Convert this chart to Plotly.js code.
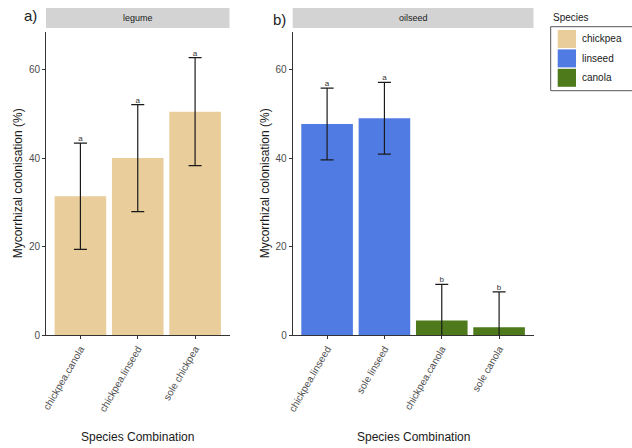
<!DOCTYPE html>
<html>
<head>
<meta charset="utf-8">
<script src="https://cdn.plot.ly/plotly-3.0.1.min.js"></script>
<style>
  html, body { margin: 0; padding: 0; background: #fff; }
  #chart { width: 632px; height: 448px; }
</style>
</head>
<body>
<div id="chart"></div>
<script>
// Mycorrhizal colonisation (%) by species combination, faceted by crop group
const legumeCats    = ['chickpea.canola', 'chickpea.linseed', 'sole chickpea'];
const legumeMean    = [31.4, 40.0, 50.5];
const legumeErr     = [12.0, 12.1, 12.2];
const legumeLetters = ['a', 'a', 'a'];
const legumeSpecies = ['chickpea', 'chickpea', 'chickpea'];

const oilseedCats    = ['chickpea.linseed', 'sole linseed', 'chickpea.canola', 'sole canola'];
const oilseedMean    = [47.7, 49.0, 3.3, 1.8];
const oilseedErr     = [8.1, 8.1, 8.2, 8.0];
const oilseedLetters = ['a', 'a', 'b', 'b'];
const oilseedSpecies = ['linseed', 'linseed', 'canola', 'canola'];

const speciesNames  = ['chickpea', 'linseed', 'canola'];
const speciesColors = ['#E9CD9B', '#507BE3', '#4E7A1C'];

const W = 632, H = 448;
const px = v => v / W;          // horizontal pixel -> paper fraction
const py = v => 1 - v / H;      // vertical pixel (from top) -> paper fraction

const FONT = 'Liberation Sans, Arial, Helvetica, sans-serif';
const TXT = '#1a1a1a', TICKTXT = '#4d4d4d', LINE = '#333333';

function panelTraces(cats, mean, err, letters, species, xa, ya) {
  const out = [];
  speciesNames.forEach((sp, k) => {
    const idx = species.map((s, i) => s === sp ? i : -1).filter(i => i >= 0);
    if (!idx.length) return;
    out.push({
      type: 'bar',
      x: idx.map(i => cats[i]),
      y: idx.map(i => mean[i]),
      width: 0.9,
      marker: { color: speciesColors[k], line: { width: 0 } },
      error_y: { type: 'data', array: idx.map(i => err[i]), visible: true,
                 color: '#1a1a1a', thickness: 1.2, width: 6.5 },
      xaxis: xa, yaxis: ya, showlegend: false, hoverinfo: 'skip'
    });
  });
  // significance letters above each error bar
  out.push({
    type: 'scatter', mode: 'text',
    x: cats, y: mean.map((m, i) => m + err[i]),
    text: letters, textposition: 'top center',
    textfont: { family: FONT, size: 8, color: '#333' },
    xaxis: xa, yaxis: ya, showlegend: false, hoverinfo: 'skip', cliponaxis: false
  });
  return out;
}

const data = [
  ...panelTraces(legumeCats, legumeMean, legumeErr, legumeLetters, legumeSpecies, 'x', 'y'),
  ...panelTraces(oilseedCats, oilseedMean, oilseedErr, oilseedLetters, oilseedSpecies, 'x2', 'y2')
];

const yTop = 31.5, yBot = 335.2;
const aL = 46, aR = 229.5, bL = 292.7, bR = 533.5;

const xCommon = {
  type: 'category', showline: true, linecolor: LINE, linewidth: 1,
  ticks: 'outside', ticklen: 3, tickcolor: LINE, tickangle: -60,
  tickfont: { family: FONT, size: 10, color: TICKTXT },
  showgrid: false, zeroline: false, fixedrange: true
};
const yCommon = {
  range: [0, 68.6], tickvals: [0, 20, 40, 60],
  showline: true, linecolor: LINE, linewidth: 1,
  ticks: 'outside', ticklen: 3, tickcolor: LINE,
  tickfont: { family: FONT, size: 10, color: TICKTXT },
  showgrid: false, zeroline: false, fixedrange: true,
  domain: [py(yBot), py(yTop)]
};

// legend frame: open on the right, where it runs past the page edge
const fL = px(550.7), fR = 1.0, fT = py(26.7), fB = py(90.7);

const shapes = [
  // facet strips
  { type: 'rect', xref: 'paper', yref: 'paper', x0: px(aL), x1: px(aR), y0: py(28), y1: py(8),
    fillcolor: '#d3d3d3', line: { width: 0 } },
  { type: 'rect', xref: 'paper', yref: 'paper', x0: px(bL), x1: px(bR), y0: py(28), y1: py(8),
    fillcolor: '#d3d3d3', line: { width: 0 } },
  { type: 'path', xref: 'paper', yref: 'paper',
    path: `M ${fR},${fT} L ${fL},${fT} L ${fL},${fB} L ${fR},${fB}`,
    line: { color: '#555', width: 1 } }
];

// text placed at exact pixel centres
function label(text, x, y, size, opts) {
  return Object.assign({
    text: text, x: px(x), y: py(y), xref: 'paper', yref: 'paper',
    xanchor: 'center', yanchor: 'middle', showarrow: false,
    font: { family: FONT, size: size, color: TXT }
  }, opts || {});
}

const annotations = [
  label('legume', (aL + aR) / 2, 18, 9),
  label('oilseed', (bL + bR) / 2, 18, 9),
  label('a)', 30, 16, 15, { font: { family: FONT, size: 15, color: '#222' } }),
  label('b)', 279, 19, 15, { font: { family: FONT, size: 15, color: '#222' } }),
  label('Mycorrhizal colonisation (%)', 18, (yTop + yBot) / 2, 12, { textangle: -90 }),
  label('Mycorrhizal colonisation (%)', 265, (yTop + yBot) / 2, 12, { textangle: -90 }),
  label('Species Combination', (aL + aR) / 2, 437, 12),
  label('Species Combination', (bL + bR) / 2, 437, 12),
  label('Species', 551, 17, 10, { xanchor: 'left' })
];

// legend keys and labels
speciesNames.forEach((sp, k) => {
  const top = 30 + k * 19.4;
  shapes.push({ type: 'rect', xref: 'paper', yref: 'paper', x0: px(557.7), x1: px(576),
    y0: py(top + 18), y1: py(top), fillcolor: speciesColors[k], line: { width: 0 } });
  annotations.push(label(sp, 580, top + 9, 10, { xanchor: 'left' }));
});

const layout = {
  width: W, height: H,
  margin: { l: 0, r: 0, t: 0, b: 0 },
  paper_bgcolor: '#fff', plot_bgcolor: '#fff',
  barmode: 'overlay', bargap: 0.1,
  showlegend: false,
  xaxis:  Object.assign({}, xCommon, { domain: [px(aL), px(aR)], range: [-0.6, 2.6],
                                        categoryorder: 'array', categoryarray: legumeCats, anchor: 'y' }),
  xaxis2: Object.assign({}, xCommon, { domain: [px(bL), px(bR)], range: [-0.6, 3.6],
                                        categoryorder: 'array', categoryarray: oilseedCats, anchor: 'y2' }),
  yaxis:  Object.assign({}, yCommon, { anchor: 'x' }),
  yaxis2: Object.assign({}, yCommon, { anchor: 'x2' }),
  shapes: shapes,
  annotations: annotations
};

Plotly.newPlot('chart', data, layout, { displayModeBar: false, staticPlot: true });
</script>
</body>
</html>
